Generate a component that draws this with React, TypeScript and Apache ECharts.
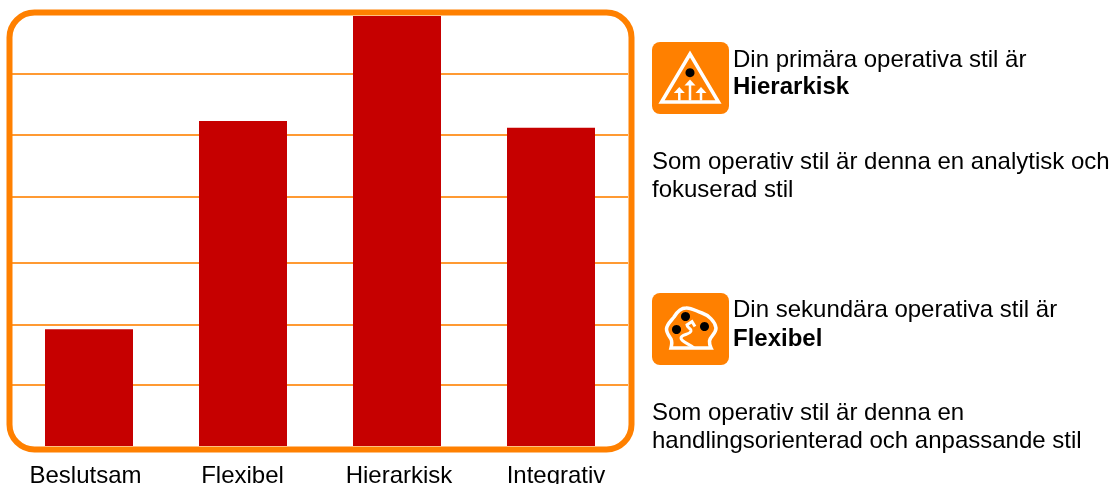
import React, { useEffect, useRef } from "react";
import * as echarts from "echarts";

const categories = ["Beslutsam", "Flexibel", "Hierarkisk", "Integrativ"];
const values = [1.9, 5.29, 7, 5.18];
const gridValues = [1, 1.98, 2.98, 4.06, 5.06, 6.06];

const primaryHead = "Din primära operativa stil är";
const primaryName = "Hierarkisk";
const primaryBody = ["Som operativ stil är denna en analytisk och", "fokuserad stil"];
const secondaryHead = "Din sekundära operativa stil är";
const secondaryName = "Flexibel";
const secondaryBody = ["Som operativ stil är denna en", "handlingsorienterad och anpassande stil"];

const ORANGE = "#FF8000";
const FONT = '"Liberation Sans", Arial, sans-serif';

const blobPath =
  "M11 50 C12 46 12.5 44 11 41 C9 38 6.5 35 6.5 31 C7 26 11 23 14 19 C17 14 21 10 26 10 C31 9.5 36 13 42 15 C48 17 55 23 56 30 C56 36 50 38 49.5 43 C49.3 46 50 48 51 50 Z";
const squigglePath =
  "M34 50 C30 46 21 44 21 40 C21 36 30 37 31 33 C31.5 30 27 30 27 27 M26 27.5 L32 23.5 L35 28.5";

function text(x: number, y: number, t: string, bold = false) {
  return {
    type: "text",
    x,
    y,
    silent: true,
    style: {
      text: t,
      fontFamily: FONT,
      fontSize: 24,
      fontWeight: bold ? "bold" : "normal",
      fill: "#000",
      verticalAlign: "middle",
    },
  };
}

function arrow(cx: number, tip: number, base: number) {
  return [
    { type: "line", silent: true, shape: { x1: cx, y1: tip + 4, x2: cx, y2: base }, style: { stroke: "#fff", lineWidth: 2.5 } },
    {
      type: "polygon",
      silent: true,
      shape: { points: [[cx - 5.5, tip + 6], [cx, tip], [cx + 5.5, tip + 6]] },
      style: { fill: "#fff" },
    },
  ];
}

echarts.graphic.registerShape("blobShape", echarts.graphic.extendPath(blobPath as any, {}) as any);
echarts.graphic.registerShape("squiggleShape", echarts.graphic.extendPath(squigglePath as any, {}) as any);

const labelStyle = (padding: number[]) => ({ color: "#000", fontSize: 24, fontFamily: FONT, padding });

export default function App() {
  const ref = useRef<HTMLDivElement>(null);
  useEffect(() => {
    if (!ref.current) return;
    const chart = echarts.init(ref.current, undefined, { renderer: "svg" });
    chart.setOption({
      animation: false,
      grid: { left: 12, right: 484, top: 16, bottom: 38, outerBoundsMode: "none" },
      xAxis: {
        type: "category",
        data: categories,
        axisLine: { show: false },
        axisTick: { show: false },
        axisLabel: {
          color: "#000",
          fontSize: 24,
          fontFamily: FONT,
          margin: 16,
          interval: 0,
          hideOverlap: false,
          formatter: (v: string, i: number) => `{l${i}|${v}}`,
          rich: {
            l0: labelStyle([0, 7, 0, 0]),
            l1: labelStyle([0, 1, 0, 0]),
            l2: labelStyle([0, 0, 0, 4]),
            l3: labelStyle([0, 0, 0, 10]),
          },
        },
      },
      yAxis: { type: "value", min: 0, max: 7, interval: 1, axisLabel: { show: false }, axisLine: { show: false }, axisTick: { show: false }, splitLine: { show: false } },
      series: [
        {
          type: "bar",
          data: values,
          barWidth: 88,
          z: 3,
          itemStyle: { color: "#C60000" },
          markLine: {
            silent: true,
            symbol: "none",
            z: 1,
            label: { show: false },
            lineStyle: { color: "#FF9A33", width: 2, type: "solid" },
            data: gridValues.map((v) => ({ yAxis: v })),
          },
        },
      ],
      graphic: [
        { type: "rect", silent: true, z: 10, shape: { x: 9.5, y: 12.5, width: 622, height: 437, r: 25 }, style: { fill: "none", stroke: ORANGE, lineWidth: 6 } },
        { type: "rect", silent: true, shape: { x: 652, y: 42, width: 77, height: 72, r: 8 }, style: { fill: ORANGE } },
        { type: "polygon", silent: true, shape: { points: [[690, 54], [661.5, 102], [718.5, 102]] }, style: { fill: "none", stroke: "#fff", lineWidth: 3.5 } },
        { type: "circle", silent: true, shape: { cx: 690, cy: 72.7, r: 4.5 }, style: { fill: "#000" } },
        ...arrow(690, 79.5, 100.5),
        ...arrow(679.3, 87, 100.5),
        ...arrow(701, 87, 100.5),
        text(733, 58, primaryHead),
        text(733, 85, primaryName, true),
        text(652, 160, primaryBody[0]),
        text(652, 188, primaryBody[1]),
        { type: "rect", silent: true, shape: { x: 652, y: 293, width: 77, height: 72, r: 8 }, style: { fill: ORANGE } },
        { type: "blobShape", silent: true, x: 660, y: 298, style: { fill: "none", stroke: "#fff", lineWidth: 3.5 } },
        { type: "squiggleShape", silent: true, x: 660, y: 298, style: { fill: "none", stroke: "#fff", lineWidth: 3 } },
        { type: "circle", silent: true, shape: { cx: 685.5, cy: 316.5, r: 4.5 }, style: { fill: "#000" } },
        { type: "circle", silent: true, shape: { cx: 676.5, cy: 329.5, r: 4.5 }, style: { fill: "#000" } },
        { type: "circle", silent: true, shape: { cx: 704.5, cy: 326.5, r: 4.5 }, style: { fill: "#000" } },
        text(733, 308, secondaryHead),
        text(733, 337, secondaryName, true),
        text(652, 411, secondaryBody[0]),
        text(652, 439, secondaryBody[1]),
      ],
    });
    return () => chart.dispose();
  }, []);
  return <div ref={ref} style={{ position: "fixed", left: 0, top: 0, width: 1112, height: 484 }} />;
}
